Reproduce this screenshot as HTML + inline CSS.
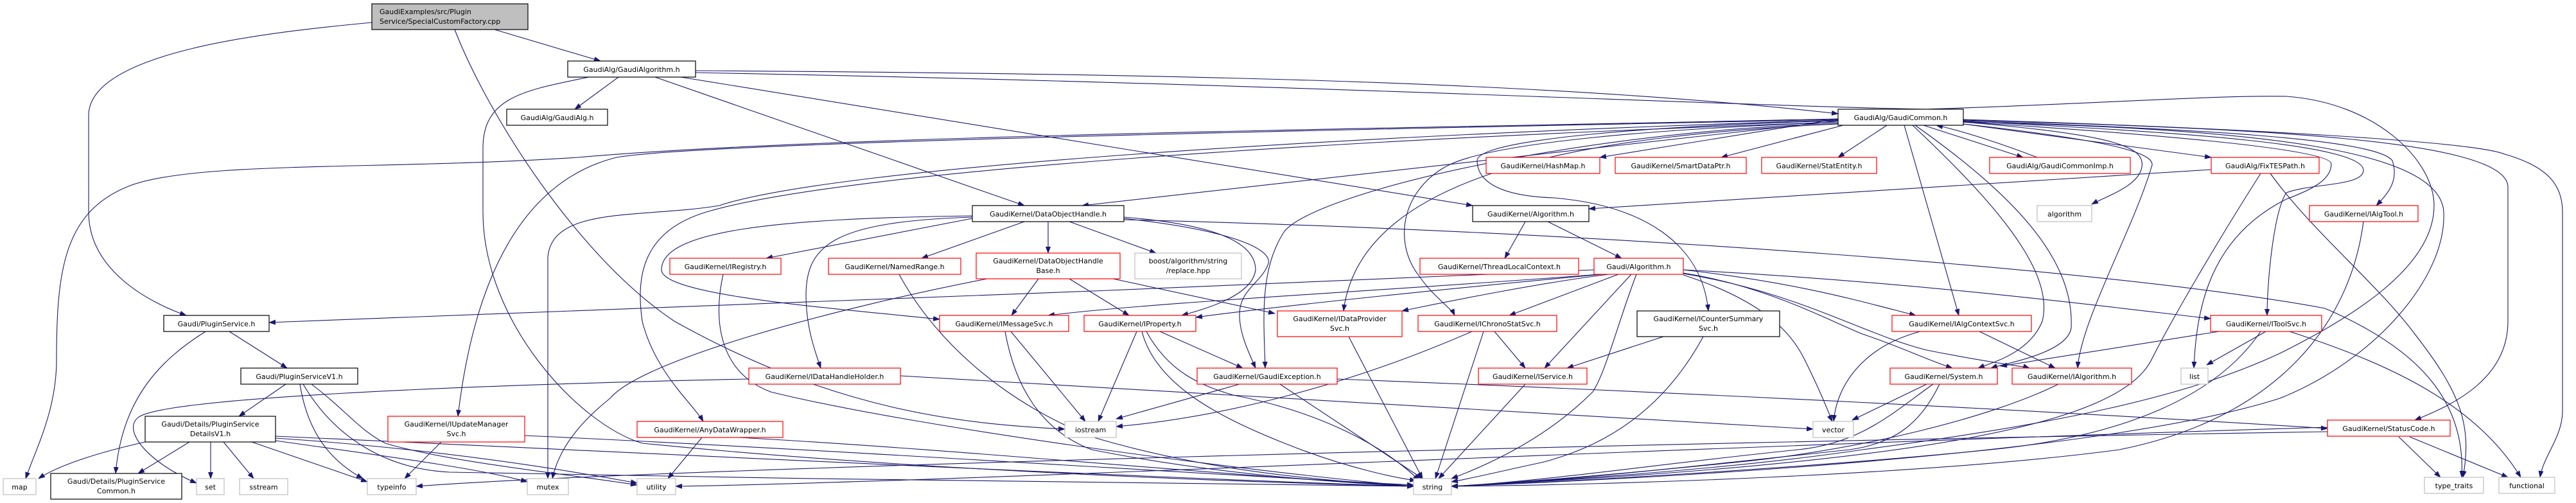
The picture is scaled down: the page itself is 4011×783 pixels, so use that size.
<!DOCTYPE html>
<html><head><meta charset="utf-8"><style>
html,body{margin:0;padding:0;background:#fff;width:4011px;height:783px;overflow:hidden}
svg{display:block}
text{font-family:"DejaVu Sans","Liberation Sans",sans-serif;font-size:11px;fill:#000}
.e{fill:none;stroke:#191970;stroke-width:1.1}
.b{fill:#fff;stroke:#000;stroke-width:1.2}
.r{fill:#fff;stroke:#ff0000;stroke-width:1.2}
.g{fill:#fff;stroke:#bfbfbf;stroke-width:1.2}
</style></head><body>
<svg width="4011" height="783" viewBox="0 0 4011 783" xmlns="http://www.w3.org/2000/svg">
<defs><marker id="a" markerWidth="11" markerHeight="8" refX="10" refY="4" orient="auto" markerUnits="userSpaceOnUse"><path d="M0,0 L11,4 L0,8 z" fill="#191970"/></marker></defs>
<g class="e" marker-end="url(#a)">
<path d="M579,35 C420,50 138,80 138,180 L138,330 C138,420 230,470 290,491"/>
<path d="M770,46 L935,95"/>
<path d="M708,46 C760,180 900,400 1050,500 C1300,640 1500,660 1658,668"/>
<path d="M963,120 L895,170"/>
<path d="M1083,110 C1800,115 2400,125 2862,177"/>
<path d="M1060,120 L2293,320"/>
<path d="M1020,120 L1595,320"/>
<path d="M917,120 C820,140 752,150 752,230 L752,330 C752,500 900,660 1000,690 C1400,730 1900,750 2201,757"/>
<path d="M1083,113 C2000,130 2700,165 3000,170 C3300,160 3450,148 3560,150 C3700,160 3790,250 3790,320 C3790,420 3650,500 3550,550 C3400,620 3200,660 2900,700 C2700,730 2400,750 2260,757"/>
<path d="M2862,185 C2200,200 1300,210 900,245 C600,265 300,250 200,290 C100,330 88,420 88,560 C88,640 55,700 40,745"/>
<path d="M2862,186 C2200,200 1100,220 960,245 C820,280 740,420 713,648"/>
<path d="M2862,187 C2100,210 1300,260 1120,320 C1000,340 860,320 853,400 L853,745"/>
<path d="M2862,188 L1685,320"/>
<path d="M2862,190 C2000,220 1300,270 1100,330 C1000,360 990,430 1000,500 C1020,580 1080,630 1095,656"/>
<path d="M2862,193 C2500,210 2120,260 2092,484"/>
<path d="M2862,192 C2450,205 2050,300 2000,360 C1960,420 1968,500 1970,573"/>
<path d="M2862,190 C2600,200 2320,220 2250,260 C2180,300 2170,380 2210,430 C2230,460 2260,480 2265,491"/>
<path d="M2862,188 C2600,195 2300,215 2300,250 C2300,280 2330,305 2420,308 C2560,320 2650,380 2660,484"/>
<path d="M2862,185 L2491,245"/>
<path d="M2870,195 L2680,245"/>
<path d="M2938,195 L2862,245"/>
<path d="M2995,195 L3150,245"/>
<path d="M3172,245 C3120,225 3060,205 3015,195"/>
<path d="M3057,190 C3300,210 3340,230 3335,260 C3330,290 3280,305 3257,318"/>
<path d="M2965,195 L3050,491"/>
<path d="M2978,195 C3100,310 3200,420 3180,500 C3160,550 3100,565 3080,573"/>
<path d="M2982,195 C3130,300 3230,400 3225,510 C3220,550 3120,566 3100,573"/>
<path d="M3057,193 C3300,220 3360,240 3350,260 C3320,360 3240,500 3235,573"/>
<path d="M3057,193 L3443,245"/>
<path d="M3057,188 C3400,200 3700,215 3725,250 C3735,280 3720,300 3700,320"/>
<path d="M3057,189 C3400,205 3680,225 3680,265 C3680,290 3600,285 3560,300 C3540,330 3530,440 3530,491"/>
<path d="M3057,190 C3300,205 3630,230 3630,255 C3630,280 3600,295 3560,310 C3440,370 3420,480 3416,573"/>
<path d="M3057,190 C3500,200 3800,230 3805,330 C3810,430 3700,560 3550,620 C3300,700 2700,740 2260,757"/>
<path d="M3057,187 C3500,200 3900,215 3905,290 L3905,500 C3905,590 3820,630 3760,654"/>
<path d="M3057,186 C3500,200 3850,220 3900,240 C3970,260 3990,290 3990,330 L3990,640 C3990,680 3960,710 3955,743"/>
<path d="M2375,345 L2343,402"/>
<path d="M2410,345 L2525,402"/>
<path d="M3443,264 L2474,325"/>
<path d="M3535,270 C3600,360 3700,440 3760,520 C3830,610 3850,660 3835,743"/>
<path d="M3520,270 C3450,380 3380,500 3350,560 C3300,660 3000,720 2260,757"/>
<path d="M3680,345 C3660,500 3550,650 3300,700 C3000,740 2500,755 2260,757"/>
<path d="M2520,427 L2350,491"/>
<path d="M2540,427 L2405,573"/>
<path d="M2548,427 C2520,500 2500,580 2480,610 C2400,690 2300,730 2260,745"/>
<path d="M2505,427 C2400,440 2250,470 2183,484"/>
<path d="M2495,427 C2300,445 2000,475 1862,494"/>
<path d="M2490,427 C2200,450 1800,470 1632,491"/>
<path d="M2482,420 C1800,450 800,490 419,502"/>
<path d="M2621,420 C2800,440 2900,470 2983,491"/>
<path d="M2621,425 C2750,445 2850,500 2900,520 C2960,540 3000,560 3040,573"/>
<path d="M2621,426 C2800,455 2900,520 3000,545 C3100,565 3150,570 3160,573"/>
<path d="M2621,420 C3000,440 3300,480 3442,496"/>
<path d="M2621,428 C2750,470 2790,520 2810,560 C2840,620 2850,650 2853,656"/>
<path d="M1595,345 L1435,402"/>
<path d="M1632,345 L1632,394"/>
<path d="M1665,345 L1800,394"/>
<path d="M1750,338 C1900,350 1955,380 1955,420 C1950,460 1880,480 1840,491"/>
<path d="M1750,340 C1930,360 1980,390 1975,410 C1965,440 1930,450 1930,490 C1930,520 1945,550 1955,573"/>
<path d="M1750,342 C2500,360 3300,420 3620,480 C3760,540 3840,620 3833,743"/>
<path d="M1514,340 L1193,402"/>
<path d="M1514,338 C1300,345 1255,380 1255,460 C1255,510 1270,550 1278,573"/>
<path d="M1514,336 C1200,340 1030,360 1030,420 C1030,460 1300,480 1463,497"/>
<path d="M1617,434 L1575,491"/>
<path d="M1665,434 L1758,491"/>
<path d="M1733,434 L1985,488"/>
<path d="M1537,434 C1300,480 1000,560 950,620 C900,660 870,700 860,745"/>
<path d="M1126,427 C1110,500 1120,580 1200,610 C1400,660 1900,730 2201,757"/>
<path d="M1400,427 C1450,520 1550,620 1700,680 C1900,740 2100,750 2201,757"/>
<path d="M1574,516 L1690,656"/>
<path d="M1565,516 C1580,600 1620,670 1700,700 C1900,740 2100,752 2201,757"/>
<path d="M1770,516 L1710,656"/>
<path d="M1806,516 L1935,573"/>
<path d="M1778,516 C1800,600 1900,650 2000,690 C2100,730 2180,745 2205,748"/>
<path d="M1785,516 C1820,580 1870,600 1920,615 C2050,640 2150,690 2210,748"/>
<path d="M1930,598 L1738,652"/>
<path d="M1993,598 L2215,745"/>
<path d="M2082,590 C2600,610 3200,640 3624,667"/>
<path d="M2100,524 L2215,745"/>
<path d="M2292,516 C2100,600 1900,650 1738,664"/>
<path d="M2310,516 L2235,745"/>
<path d="M2327,516 L2375,573"/>
<path d="M2590,524 L2440,573"/>
<path d="M2652,524 C2600,620 2520,690 2400,720 C2330,735 2290,745 2260,750"/>
<path d="M2375,598 L2240,745"/>
<path d="M2990,516 C2900,540 2860,600 2855,656"/>
<path d="M3082,516 L3200,573"/>
<path d="M3000,598 L2884,654"/>
<path d="M3010,598 C2950,640 2900,690 2800,700 C2600,720 2400,750 2260,757"/>
<path d="M3020,598 C2990,660 2950,690 2880,700 C2600,730 2400,752 2260,757"/>
<path d="M3205,598 C3100,650 2900,700 2700,720 C2500,740 2350,752 2260,757"/>
<path d="M3528,516 L3436,568"/>
<path d="M3520,516 C3450,620 3300,680 3100,700 C2800,730 2400,752 2260,757"/>
<path d="M3565,516 C3700,560 3850,620 3925,743"/>
<path d="M3455,516 L3115,570"/>
<path d="M3735,680 L3800,743"/>
<path d="M3752,680 L3905,743"/>
<path d="M3624,672 C2500,690 1000,730 648,757"/>
<path d="M3624,665 C2500,700 1500,750 1052,757"/>
<path d="M1402,585 L2823,668"/>
<path d="M1166,590 C700,600 250,620 215,650 C190,670 230,720 306,752"/>
<path d="M687,688 L630,745"/>
<path d="M817,678 C1300,700 1900,740 2201,755"/>
<path d="M1093,681 L1040,745"/>
<path d="M1150,681 C1500,700 1900,740 2201,757"/>
<path d="M320,516 C250,560 190,620 180,737"/>
<path d="M357,516 L447,573"/>
<path d="M445,598 L372,648"/>
<path d="M467,598 C480,680 520,720 565,745"/>
<path d="M472,598 C520,680 600,730 700,735 C1200,745 1900,755 2201,757"/>
<path d="M485,598 C540,640 560,670 600,690 C700,720 900,740 992,755"/>
<path d="M226,688 C150,705 90,725 60,745"/>
<path d="M295,688 L215,737"/>
<path d="M328,688 L328,745"/>
<path d="M348,688 L395,745"/>
<path d="M392,688 L572,750"/>
<path d="M429,679 C900,700 1800,745 2201,757"/>
<path d="M429,682 C700,700 900,735 992,752"/>
<path d="M429,686 C600,710 750,730 821,750"/>
</g>
<g>
<rect x="579" y="6" width="243" height="40" fill="#bfbfbf" stroke="#000" stroke-width="1.2"/>
<text x="591" y="22">GaudiExamples/src/Plugin</text><text x="591" y="37">Service/SpecialCustomFactory.cpp</text>
<rect class="b" x="884" y="95" width="199" height="25"/><text x="983.5" y="112" text-anchor="middle">GaudiAlg/GaudiAlgorithm.h</text>
<rect class="b" x="789" y="170" width="157" height="25"/><text x="867.5" y="187" text-anchor="middle">GaudiAlg/GaudiAlg.h</text>
<rect class="b" x="255" y="491" width="164" height="25"/><text x="337" y="508" text-anchor="middle">Gaudi/PluginService.h</text>
<rect class="b" x="375" y="573" width="182" height="25"/><text x="466" y="590" text-anchor="middle">Gaudi/PluginServiceV1.h</text>
<rect class="b" x="226" y="648" width="203" height="40"/><text x="327.5" y="664" text-anchor="middle">Gaudi/Details/PluginService</text><text x="327.5" y="679" text-anchor="middle">DetailsV1.h</text>
<rect class="g" x="5" y="745" width="51" height="25"/><text x="30.5" y="762" text-anchor="middle">map</text>
<rect class="b" x="79" y="737" width="204" height="40"/><text x="181" y="753" text-anchor="middle">Gaudi/Details/PluginService</text><text x="181" y="768" text-anchor="middle">Common.h</text>
<rect class="g" x="306" y="745" width="43" height="25"/><text x="327.5" y="762" text-anchor="middle">set</text>
<rect class="g" x="373" y="745" width="75" height="25"/><text x="410.5" y="762" text-anchor="middle">sstream</text>
<rect class="g" x="572" y="745" width="76" height="25"/><text x="610" y="762" text-anchor="middle">typeinfo</text>
<rect class="r" x="604" y="648" width="213" height="40"/><text x="710.5" y="664" text-anchor="middle">GaudiKernel/IUpdateManager</text><text x="710.5" y="679" text-anchor="middle">Svc.h</text>
<rect class="g" x="821" y="745" width="64" height="25"/><text x="853" y="762" text-anchor="middle">mutex</text>
<rect class="g" x="992" y="745" width="60" height="25"/><text x="1022" y="762" text-anchor="middle">utility</text>
<rect class="r" x="1043" y="402" width="173" height="25"/><text x="1129.5" y="419" text-anchor="middle">GaudiKernel/IRegistry.h</text>
<rect class="r" x="1290" y="402" width="206" height="25"/><text x="1393" y="419" text-anchor="middle">GaudiKernel/NamedRange.h</text>
<rect class="r" x="1166" y="573" width="236" height="25"/><text x="1284" y="590" text-anchor="middle">GaudiKernel/IDataHandleHolder.h</text>
<rect class="r" x="992" y="656" width="227" height="25"/><text x="1105.5" y="673" text-anchor="middle">GaudiKernel/AnyDataWrapper.h</text>
<rect class="b" x="1514" y="320" width="236" height="25"/><text x="1632" y="337" text-anchor="middle">GaudiKernel/DataObjectHandle.h</text>
<rect class="r" x="1520" y="394" width="224" height="40"/><text x="1632" y="410" text-anchor="middle">GaudiKernel/DataObjectHandle</text><text x="1632" y="425" text-anchor="middle">Base.h</text>
<rect class="g" x="1767" y="394" width="166" height="40"/><text x="1850" y="410" text-anchor="middle">boost/algorithm/string</text><text x="1850" y="425" text-anchor="middle">/replace.hpp</text>
<rect class="r" x="1463" y="491" width="201" height="25"/><text x="1563.5" y="508" text-anchor="middle">GaudiKernel/IMessageSvc.h</text>
<rect class="r" x="1688" y="491" width="174" height="25"/><text x="1775" y="508" text-anchor="middle">GaudiKernel/IProperty.h</text>
<rect class="r" x="1989" y="484" width="194" height="40"/><text x="2086" y="500" text-anchor="middle">GaudiKernel/IDataProvider</text><text x="2086" y="515" text-anchor="middle">Svc.h</text>
<rect class="r" x="1864" y="573" width="218" height="25"/><text x="1973" y="590" text-anchor="middle">GaudiKernel/GaudiException.h</text>
<rect class="g" x="1658" y="656" width="80" height="25"/><text x="1698" y="673" text-anchor="middle">iostream</text>
<rect class="r" x="2314" y="245" width="177" height="25"/><text x="2402.5" y="262" text-anchor="middle">GaudiKernel/HashMap.h</text>
<rect class="r" x="2515" y="245" width="204" height="25"/><text x="2617" y="262" text-anchor="middle">GaudiKernel/SmartDataPtr.h</text>
<rect class="r" x="2743" y="245" width="179" height="25"/><text x="2832.5" y="262" text-anchor="middle">GaudiKernel/StatEntity.h</text>
<rect class="b" x="2293" y="320" width="181" height="25"/><text x="2383.5" y="337" text-anchor="middle">GaudiKernel/Algorithm.h</text>
<rect class="r" x="2211" y="402" width="247" height="25"/><text x="2334.5" y="419" text-anchor="middle">GaudiKernel/ThreadLocalContext.h</text>
<rect class="r" x="2482" y="402" width="139" height="25"/><text x="2551.5" y="419" text-anchor="middle">Gaudi/Algorithm.h</text>
<rect class="r" x="2208" y="491" width="216" height="25"/><text x="2316" y="508" text-anchor="middle">GaudiKernel/IChronoStatSvc.h</text>
<rect class="b" x="2549" y="484" width="222" height="40"/><text x="2660" y="500" text-anchor="middle">GaudiKernel/ICounterSummary</text><text x="2660" y="515" text-anchor="middle">Svc.h</text>
<rect class="r" x="2302" y="573" width="169" height="25"/><text x="2386.5" y="590" text-anchor="middle">GaudiKernel/IService.h</text>
<rect class="g" x="2201" y="745" width="59" height="25"/><text x="2230.5" y="762" text-anchor="middle">string</text>
<rect class="b" x="2862" y="170" width="195" height="25"/><text x="2959.5" y="187" text-anchor="middle">GaudiAlg/GaudiCommon.h</text>
<rect class="r" x="3098" y="245" width="219" height="25"/><text x="3207.5" y="262" text-anchor="middle">GaudiAlg/GaudiCommonImp.h</text>
<rect class="g" x="3172" y="320" width="85" height="25"/><text x="3214.5" y="337" text-anchor="middle">algorithm</text>
<rect class="r" x="3443" y="245" width="168" height="25"/><text x="3527" y="262" text-anchor="middle">GaudiAlg/FixTESPath.h</text>
<rect class="r" x="2946" y="491" width="217" height="25"/><text x="3054.5" y="508" text-anchor="middle">GaudiKernel/IAlgContextSvc.h</text>
<rect class="r" x="2943" y="573" width="167" height="25"/><text x="3026.5" y="590" text-anchor="middle">GaudiKernel/System.h</text>
<rect class="r" x="3133" y="573" width="186" height="25"/><text x="3226" y="590" text-anchor="middle">GaudiKernel/IAlgorithm.h</text>
<rect class="g" x="3396" y="573" width="42" height="25"/><text x="3417" y="590" text-anchor="middle">list</text>
<rect class="g" x="2823" y="656" width="63" height="25"/><text x="2854.5" y="673" text-anchor="middle">vector</text>
<rect class="r" x="3442" y="491" width="173" height="25"/><text x="3528.5" y="508" text-anchor="middle">GaudiKernel/IToolSvc.h</text>
<rect class="r" x="3596" y="320" width="169" height="25"/><text x="3680.5" y="337" text-anchor="middle">GaudiKernel/IAlgTool.h</text>
<rect class="r" x="3624" y="654" width="191" height="25"/><text x="3719.5" y="671" text-anchor="middle">GaudiKernel/StatusCode.h</text>
<rect class="g" x="3775" y="743" width="92" height="25"/><text x="3821" y="760" text-anchor="middle">type_traits</text>
<rect class="g" x="3891" y="743" width="87" height="25"/><text x="3934.5" y="760" text-anchor="middle">functional</text>
</g>
</svg>
</body></html>
